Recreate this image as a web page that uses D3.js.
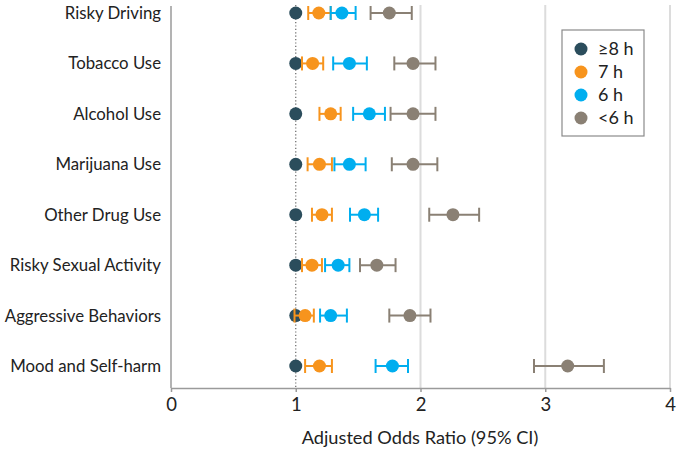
<!DOCTYPE html>
<html><head><meta charset="utf-8">
<script src="https://cdn.jsdelivr.net/npm/d3@7"></script>
<style>body{margin:0;background:#fff}svg{display:block}</style>
</head><body>
<svg id="c" width="680" height="452"></svg>
<script>
const categories = ["Risky Driving","Tobacco Use","Alcohol Use","Marijuana Use","Other Drug Use","Risky Sexual Activity","Aggressive Behaviors","Mood and Self-harm"];
const seriesNames = ["≥8 h","7 h","6 h","<6 h"];
const seriesColors = ["#2b4d5c","#f7941d","#00aeef","#8a8074"];
// odds ratio point estimates per series (per category)
const or8 = [1,1,1,1,1,1,1,1];
const or7 = [1.185,1.135,1.28,1.19,1.21,1.13,1.075,1.19];
const lo7 = [1.10,1.05,1.19,1.095,1.13,1.05,0.99,1.075];
const hi7 = [1.28,1.22,1.36,1.29,1.29,1.21,1.145,1.29];
const or6 = [1.37,1.43,1.59,1.43,1.55,1.34,1.28,1.775];
const lo6 = [1.28,1.30,1.46,1.31,1.435,1.235,1.195,1.64];
const hi6 = [1.48,1.57,1.715,1.56,1.66,1.43,1.41,1.90];
const orL = [1.75,1.94,1.94,1.94,2.26,1.65,1.915,3.18];
const loL = [1.60,1.79,1.76,1.77,2.07,1.515,1.75,2.91];
const hiL = [1.93,2.12,2.12,2.135,2.47,1.80,2.08,3.47];
const xTicks = [0,1,2,3,4];
const xTitle = "Adjusted Odds Ratio (95% CI)";

const svg = d3.select("#c");
const font = "Lato, 'Open Sans', sans-serif";
const x = d3.scaleLinear().domain([0,4]).range([171,670]);
const y = d3.scalePoint().domain(categories).range([13,366]);
const plotTop = 5, plotBottom = 388;

// gridlines
svg.append("g").selectAll("line").data([2,3,4]).join("line")
  .attr("x1",d=>x(d)).attr("x2",d=>x(d)).attr("y1",plotTop).attr("y2",plotBottom)
  .attr("stroke","#dcdcdc").attr("stroke-width",2);
// reference dotted line
svg.append("line").attr("x1",x(1)).attr("x2",x(1)).attr("y1",plotTop).attr("y2",plotBottom)
  .attr("stroke","#666").attr("stroke-width",1.2).attr("stroke-dasharray","1.2,2.2");

// x axis
const xa = svg.append("g").attr("transform",`translate(0,${plotBottom})`)
  .call(d3.axisBottom(x).tickValues(xTicks).tickFormat(d3.format("d")).tickSize(4).tickPadding(6).tickSizeOuter(0));
xa.select(".domain").attr("stroke","#9a9a9a").attr("stroke-width",1.5);
xa.selectAll(".tick line").attr("stroke","#9a9a9a").attr("stroke-width",1.5);
xa.selectAll("text").attr("font-family",font).attr("font-size",18.5).attr("fill","#222");

// y axis line
svg.append("line").attr("x1",171).attr("x2",171).attr("y1",6).attr("y2",plotBottom)
  .attr("stroke","#9a9a9a").attr("stroke-width",1.5);

// category labels
svg.append("g").selectAll("text").data(categories).join("text")
  .attr("x",161).attr("y",d=>y(d)).attr("dy","0.36em").attr("text-anchor","end")
  .attr("font-family",font).attr("font-size",16.8).attr("fill","#222").text(d=>d);

// x title
svg.append("text").attr("x",420).attr("y",444).attr("text-anchor","middle")
  .attr("font-family",font).attr("font-size",18.2).attr("fill","#222").text(xTitle);

// series data
const series = [
  {pt:or8, lo:null, hi:null},
  {pt:or7, lo:lo7, hi:hi7},
  {pt:or6, lo:lo6, hi:hi6},
  {pt:orL, lo:loL, hi:hiL}
];
const capH = 7;
[0,1,2,3].forEach(si=>{
  const s = series[si], col = seriesColors[si];
  const g = svg.append("g");
  categories.forEach((c,i)=>{
    const cy = y(c);
    if (s.lo) {
      g.append("line").attr("x1",x(s.lo[i])).attr("x2",x(s.hi[i])).attr("y1",cy).attr("y2",cy)
        .attr("stroke",col).attr("stroke-width",2);
      [s.lo[i],s.hi[i]].forEach(v=>{
        g.append("line").attr("x1",x(v)).attr("x2",x(v)).attr("y1",cy-capH).attr("y2",cy+capH)
          .attr("stroke",col).attr("stroke-width",2);
      });
    }
    g.append("circle").attr("cx",x(s.pt[i])).attr("cy",cy).attr("r",6.5).attr("fill",col);
  });
});

// legend
const lg = svg.append("g");
lg.append("rect").attr("x",562).attr("y",30).attr("width",82).attr("height",106)
  .attr("fill","#fff").attr("stroke","#8a8a8a").attr("stroke-width",1.2);
seriesNames.forEach((n,i)=>{
  const ly = 49 + i*23;
  lg.append("circle").attr("cx",581).attr("cy",ly).attr("r",6.5).attr("fill",seriesColors[i]);
  lg.append("text").attr("x",598).attr("y",ly).attr("dy","0.36em")
    .attr("font-family",font).attr("font-size",18).attr("fill","#222").text(n);
});
</script>
</body></html>
